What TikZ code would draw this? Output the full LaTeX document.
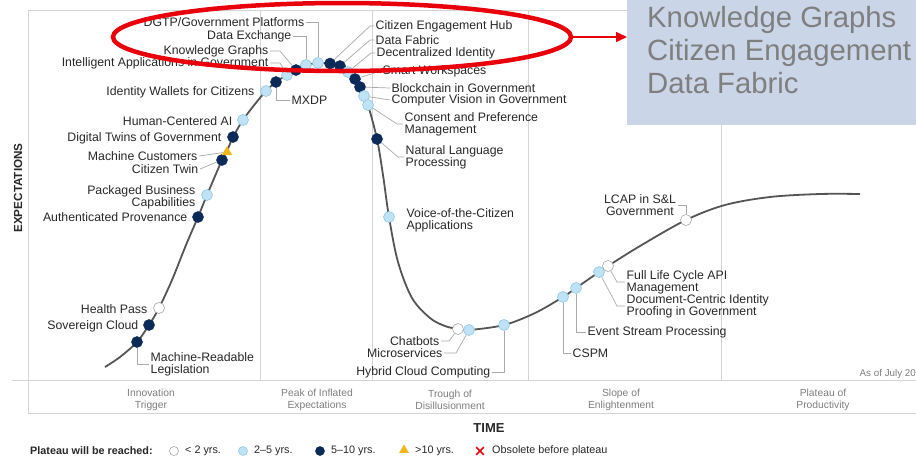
\documentclass[tikz,border=0pt]{standalone}
\usepackage{fontspec}
\setmainfont{Liberation Sans}
\usetikzlibrary{arrows.meta,shapes.geometric,shapes.misc}
\definecolor{dkb}{HTML}{0B2A57}
\definecolor{ltb}{HTML}{BFE3F4}
\definecolor{ltbd}{HTML}{94C8E4}
\definecolor{gridc}{HTML}{D4D4D4}
\definecolor{txt}{HTML}{282828}
\definecolor{curvec}{HTML}{555555}
\definecolor{leadc}{HTML}{AAAAAA}
\definecolor{boxbg}{HTML}{CBD5E8}
\definecolor{boxtxt}{HTML}{7F7F7F}
\definecolor{redc}{HTML}{E8000B}
\definecolor{tric}{HTML}{F2B51A}
\definecolor{phasec}{HTML}{7E7E7E}
\begin{document}
\begin{tikzpicture}[x=1pt,y=-1pt,
  dotdk/.style={circle,fill=dkb,draw=dkb,line width=0.5pt,minimum size=11pt,inner sep=0pt},
  dotlt/.style={circle,fill=ltb,draw=ltbd,line width=0.6pt,minimum size=11pt,inner sep=0pt},
  dotwt/.style={circle,fill=white,draw=gray!70,line width=0.6pt,minimum size=11pt,inner sep=0pt},
  trimark/.style={regular polygon,regular polygon sides=3,fill=tric,minimum size=12pt,inner sep=0pt},
  lab/.style={font=\fontsize{12.3}{11.8}\selectfont,text=txt,inner sep=1.5pt},
  labR/.style={lab,anchor=east,align=right},
  labL/.style={lab,anchor=west,align=left},
  leader/.style={draw=leadc,line width=0.7pt},
  gridl/.style={draw=gridc,line width=0.8pt},
  phase/.style={font=\fontsize{10.3}{12}\selectfont,text=phasec,align=center,inner sep=0pt},
  legtxt/.style={font=\fontsize{10.8}{12}\selectfont,text=txt,anchor=west,inner sep=0pt}
]
\useasboundingbox (0,0) rectangle (916,459);
\fill[white] (0,0) rectangle (916,459);

% frame and grid
\draw[gridl] (28,10) -- (916,10);
\draw[gridl] (28,10) -- (28,413);
\draw[gridl] (12,380) -- (916,380);
\draw[gridl] (28,413) -- (916,413);
\foreach \gx in {260,372,528,721} {\draw[gridl] (\gx,10) -- (\gx,380);}

% curve
\draw[curvec,line width=1.8pt] plot[smooth,tension=0.55] coordinates {
 (105,367) (120,357) (137,342) (149,325) (159,308) (172,280) (186,245) (198,217)
 (207,195) (222,160) (227,151) (233,137) (243,120) (255,104) (266,91) (276,82)
 (287,75) (296,70) (306,65) (318,63) (330,63.5) (340,66) (348,72) (355,79)
 (360,87) (364,96) (368,105) (377,139) (383,175) (389,217) (398,262) (412,298)
 (430,318) (445,326) (458,329) (469,330) (504,325) (535,313) (563,297) (576,288)
 (599,272) (608,266) (640,246) (686,220) (725,205) (770,197) (820,194) (860,194)};

% dots
\node[dotdk] (d1) at (137,342) {};
\node[dotdk] (d2) at (149,325) {};
\node[dotwt] (d3) at (159,308) {};
\node[dotdk] (d4) at (198,217) {};
\node[dotlt] (d5) at (207,195) {};
\node[dotdk] (d6) at (222,160) {};
\node[trimark] (t1) at (227,152) {};
\node[dotdk] (d7) at (233,137) {};
\node[dotlt] (d8) at (243,120) {};
\node[dotlt] (d9) at (266,91) {};
\node[dotdk] (d10) at (276,82) {};
\node[dotlt] (d11) at (287,75) {};
\node[dotdk] (d12) at (296,70) {};
\node[dotlt] (d13) at (306,65) {};
\node[dotlt] (d14) at (318,63) {};
\node[dotdk] (d15) at (330,63.5) {};
\node[dotdk] (d16) at (340,66) {};
\node[dotlt] (d17) at (348,72) {};
\node[dotdk] (d18) at (355,79) {};
\node[dotdk] (d19) at (360,87) {};
\node[dotlt] (d20) at (364,96) {};
\node[dotlt] (d21) at (368,105) {};
\node[dotdk] (d22) at (377,139) {};
\node[dotlt] (d23) at (389,217) {};
\node[dotwt] (d24) at (458,329) {};
\node[dotlt] (d25) at (469,330) {};
\node[dotlt] (d26) at (504,325) {};
\node[dotlt] (d27) at (563,297) {};
\node[dotlt] (d28) at (576,288) {};
\node[dotlt] (d29) at (599,272) {};
\node[dotwt] (d30) at (608,266) {};
\node[dotwt] (d31) at (686,220) {};

% labels, left side
\node[labR] (l14) at (306,22) {DGTP/Government Platforms};
\node[labR] (l13) at (293,36) {Data Exchange};
\node[labR] (l12) at (270,51) {Knowledge Graphs};
\node[labR] (l11) at (270,63) {Intelligent Applications in Government};
\node[labR] (l9) at (256,92) {Identity Wallets for Citizens};
\node[labR] (l8) at (234,121) {Human-Centered AI};
\node[labR] (l7) at (223,138) {Digital Twins of Government};
\node[labR] (lt1) at (199,156) {Machine Customers};
\node[labR] (l6) at (200,169) {Citizen Twin};
\node[labR] (l5) at (197,197.5) {Packaged Business\\Capabilities};
\node[labR] (l4) at (189,217) {Authenticated Provenance};
\node[labR] (l3) at (149,309) {Health Pass};
\node[labR] (l2) at (140,326) {Sovereign Cloud};
\node[labR] (l24) at (441,341) {Chatbots};
\node[labR] (l25) at (444,353) {Microservices};
\node[labR] (l26) at (492,372) {Hybrid Cloud Computing};

% labels, right side
\node[labL] (l10) at (290,100) {MXDP};
\node[labL] (l1) at (149,364) {Machine-Readable\\Legislation};
\node[labL] (l15) at (374,26) {Citizen Engagement Hub};
\node[labL] (l16) at (374,40) {Data Fabric};
\node[labL] (l17) at (375,53) {Decentralized Identity};
\node[labL] (l18) at (381,71) {Smart Workspaces};
\node[labL] (l19) at (390,88) {Blockchain in Government};
\node[labL] (l20) at (390,100) {Computer Vision in Government};
\node[labL] (l21) at (403,124) {Consent and Preference\\Management};
\node[labL] (l22) at (404,157) {Natural Language\\Processing};
\node[labL] (l23) at (405,220) {Voice-of-the-Citizen\\Applications};
\node[labL] (l27) at (571,353) {CSPM};
\node[labL] (l28) at (586,332) {Event Stream Processing};
\node[labL] (l29) at (625,306) {Document-Centric Identity\\Proofing in Government};
\node[labL] (l30) at (625,282) {Full Life Cycle API\\Management};
\node[lab,align=center] (l31) at (640,205) {LCAP in S\&L\\Government};

% leader lines
\draw[leader] (l14.east) -| (d14);
\draw[leader] (l13.east) -| (d13);
\draw[leader] (l12.east) -- ++(10,0) -- (d12);
\draw[leader] (l11.east) -- ++(10,0) -- (d11);
\draw[leader] (lt1.east) -- (t1);
\draw[leader] (l6.east) -- (d6);
\draw[leader] (l24.east) -- ++(8,0) -- (d24);
\draw[leader] (l25.east) -- ++(12,0) -- (d25);
\draw[leader] (l26.east) -| (d26);
\draw[leader] (d10) |- (l10.west);
\draw[leader] (d1) |- (l1.west);
\draw[leader] (l15.west) -- ++(-4,0) -- (d15);
\draw[leader] (l16.west) -- ++(-4,0) -- (d16);
\draw[leader] (l17.west) -- ++(-4,0) -- (d17);
\draw[leader] (l18.west) -- (d18);
\draw[leader] (l19.west) -- (d19);
\draw[leader] (l20.west) -- (d20);
\draw[leader] (l21.west) -- ++(-6,0) -- (d21);
\draw[leader] (l22.west) -- ++(-6,0) -- (d22);
\draw[leader] (d27) |- (l27.west);
\draw[leader] (d28) |- (l28.west);
\draw[leader] (l29.west) -- ++(-8,0) -- (d29);
\draw[leader] (l30.west) -- ++(-8,0) -- (d30);
\draw[leader] (l31.east) -| (d31);

% axes texts
\node[font=\bfseries\fontsize{11.7}{13}\selectfont,text=txt,rotate=90] (yax) at (18,188) {EXPECTATIONS};
\node[font=\bfseries\fontsize{13}{14}\selectfont,text=txt] (xax) at (489,428) {TIME};
\node[anchor=east,font=\fontsize{9.8}{11}\selectfont,text=phasec,inner sep=0pt] (asof) at (916,374) {As of July 20};

% phases
\node[phase] (p1) at (151,400) {Innovation\\Trigger};
\node[phase] (p2) at (317,400) {Peak of Inflated\\Expectations};
\node[phase] (p3) at (450,400) {Trough of\\Disillusionment};
\node[phase] (p4) at (621,400) {Slope of\\Enlightenment};
\node[phase] (p5) at (823,400) {Plateau of\\Productivity};

% legend
\node[legtxt,font=\bfseries\fontsize{10.8}{12}\selectfont] (lg) at (30,451) {Plateau will be reached:};
\node[dotwt,minimum size=9pt] (g1) at (174,451) {};
\node[legtxt] (g1t) at (185,451) {< 2 yrs.};
\node[dotlt,minimum size=9pt] (g2) at (243,451) {};
\node[legtxt] (g2t) at (254,451) {2–5 yrs.};
\node[dotdk,minimum size=9pt] (g3) at (320,451) {};
\node[legtxt] (g3t) at (331,451) {5–10 yrs.};
\node[trimark,minimum size=11pt] (g4) at (404,450) {};
\node[legtxt] (g4t) at (415,451) {>10 yrs.};
\node[cross out,draw=redc,line width=1.6pt,minimum size=6pt,inner sep=0pt] (g5) at (480,451) {};
\node[legtxt] (g5t) at (492,451) {Obsolete before plateau};

% highlight
\node[ellipse,draw=redc,line width=4.5pt,minimum width=458pt,minimum height=68pt,inner sep=0pt] (ell) at (342,37) {};
\node[fill=boxbg,minimum width=289pt,minimum height=125pt,anchor=north west,inner sep=0pt] (box) at (627,0) {};
\draw[redc,line width=1.5pt,-{Triangle[length=11pt,width=10pt]}] (ell.east) -- (ell.east -| box.west);
\node[anchor=north west,align=left,font=\fontsize{29.3}{33}\selectfont,text=boxtxt,inner sep=0pt] (btxt) at (647,6) {Knowledge Graphs\\Citizen Engagement\\Data Fabric};
\end{tikzpicture}
\end{document}
